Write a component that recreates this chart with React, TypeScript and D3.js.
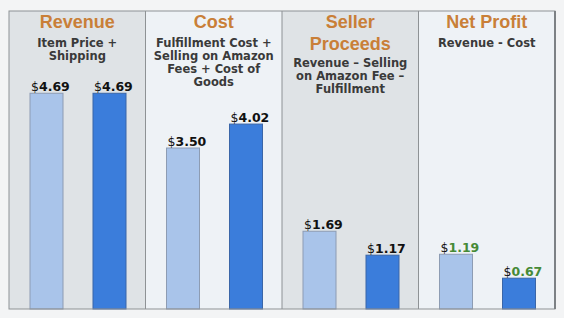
import React from "react";
import * as d3 from "d3";

const categories = ["Revenue", "Cost", "Seller Proceeds", "Net Profit"];
const titleLines = [["Revenue"], ["Cost"], ["Seller", "Proceeds"], ["Net Profit"]];
const subtitleLines = [
  ["Item Price +", "Shipping"],
  ["Fulfillment Cost +", "Selling on Amazon", "Fees + Cost of", "Goods"],
  ["Revenue \u2013 Selling", "on Amazon Fee \u2013", "Fulfillment"],
  ["Revenue - Cost"],
];
const seriesA = [4.69, 3.5, 1.69, 1.19];
const seriesB = [4.69, 4.02, 1.17, 0.67];
const greenValues = [false, false, false, true];

const W = 564, H = 318;
const left = 9, right = 555, top = 11, base = 309;

export default function App() {
  const x = d3.scaleBand<string>().domain(categories).range([left, right]).padding(0);
  const y = d3.scaleLinear().domain([0, 5]).range([base, base - 230]);
  const pw = x.bandwidth();
  const barW = 33;
  const fmt = (v: number) => v.toFixed(2);
  const panelBg = ["#dfe3e6", "#eef2f6", "#dfe3e6", "#eef2f6"];
  const titleFont = "'Liberation Sans', Arial, sans-serif";
  const subFont = "'DejaVu Sans', Verdana, sans-serif";

  const bar = (v: number, i: number, k: number) => {
    const px = x(categories[i])!;
    const bx = px + (k === 0 ? 21 : 84);
    const yy = y(v);
    const green = greenValues[i];
    return (
      <g key={`${i}-${k}`}>
        <rect x={bx} y={yy} width={barW} height={base - yy}
          fill={k === 0 ? "#a9c4ea" : "#3b7ddb"}
          stroke={k === 0 ? "#8d9cb3" : "#3a66a8"} strokeWidth={1} />
        <text x={bx + 1} y={yy - 2.5} textAnchor="start"
          fontFamily={subFont} fontWeight="bold" fontSize={12.5} fill="#111">
          <tspan fontWeight="normal">$</tspan>
          <tspan fill={green ? "#468a36" : "#111"}>{fmt(v)}</tspan>
        </text>
      </g>
    );
  };

  return (
    <svg width={W} height={H} style={{ position: "absolute", left: 0, top: 0 }}>
      <rect x={0} y={0} width={W} height={H} fill="#f3f4f5" />
      {categories.map((c, i) => (
        <rect key={c} x={x(c)!} y={top} width={pw} height={base - top} fill={panelBg[i]} />
      ))}
      {categories.map((c, i) => {
        const cx = x(c)! + pw / 2;
        const tl = titleLines[i];
        const subStart = tl.length === 1 ? 47 : 67;
        return (
          <g key={c}>
            {tl.map((t, j) => (
              <text key={j} x={cx} y={28 + j * 22} textAnchor="middle" fontFamily={titleFont}
                fontWeight="bold" fontSize={18} fill="#c97f38">{t}</text>
            ))}
            {subtitleLines[i].map((t, j) => (
              <text key={j} x={cx} y={subStart + j * 13} textAnchor="middle" fontFamily={subFont}
                fontWeight="bold" fontSize={11.5} fill="#3a3a3a">{t}</text>
            ))}
          </g>
        );
      })}
      {seriesA.map((v, i) => bar(v, i, 0))}
      {seriesB.map((v, i) => bar(v, i, 1))}
      {categories.slice(1).map((c) => (
        <line key={c} x1={x(c)!} x2={x(c)!} y1={top} y2={base} stroke="#8e9295" strokeWidth={1} />
      ))}
      <rect x={left} y={top} width={right - left} height={base - top} fill="none" stroke="#8e9295" strokeWidth={1} />
      <line x1={right} x2={right} y1={top} y2={base} stroke="#7d8185" strokeWidth={2} />
    </svg>
  );
}
